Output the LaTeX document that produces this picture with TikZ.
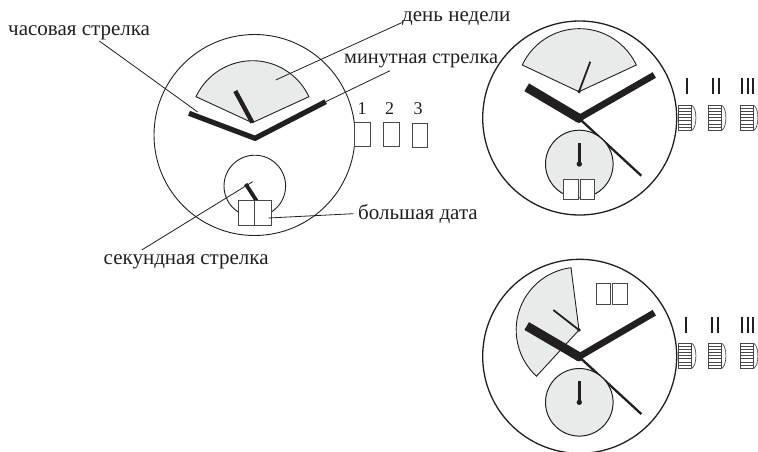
\documentclass[tikz,border=0pt]{standalone}
\usepackage{fontspec}
\setmainfont{Liberation Serif}
\definecolor{ink}{HTML}{231F20}
\definecolor{dial}{HTML}{E9EBEB}
\definecolor{boxline}{HTML}{4A4748}
\tikzset{
  thinline/.style={draw=ink,line width=0.8pt},
  dialline/.style={draw=ink,line width=1.3pt},
  sectorfill/.style={draw=ink,line width=0.9pt,fill=dial},
  datebox/.style={draw=boxline,line width=1pt,fill=white},
  label/.style={inner sep=0pt,anchor=base west,font=\fontsize{21}{23}\selectfont,text=ink},
  digit/.style={inner sep=0pt,anchor=center,font=\fontsize{18}{20}\selectfont,text=ink},
  bar/.style={draw=ink,line width=1.9pt},
  crownbody/.style={draw=boxline,line width=0.7pt},
  crown/.pic={
    \draw[crownbody] (13.5,0) .. controls (19,3) and (19,22) .. (13.5,25);
    \draw[crownbody,fill=white] (0,0) rectangle (13.5,25);
    \foreach \yy in {3.1,6.2,...,22} \draw[crownbody] (0,\yy) -- (13.5,\yy);
  }
}
\newcommand{\bighands}[5]{% hour tip x y, centre at (#1,#2)
  \draw[draw=ink,line width=9pt] (526.7,#3) -- (#1,#2);
  \draw[draw=ink,line width=6.5pt] (654.3,#4) -- (#1,#2);
  \draw[draw=ink,line width=2.3pt] (#1,#2) -- (641.3,#5);
  \fill[ink] (#1,#2) circle (4.7);
}
\begin{document}
\begin{tikzpicture}[x=1pt,y=-1pt]
\useasboundingbox (0,0) rectangle (758,451);
% left dial
\node[circle,draw=ink,line width=0.9pt,minimum size=201pt,inner sep=0pt] (mainA) at (254.5,135) {};
\draw[sectorfill] (252.3,122.7) -- (196,96.7) arc[start angle=-155,end angle=-25,radius=62.3] -- cycle;
\draw[draw=ink,line width=4.4pt] (252.3,122.5) -- (235.3,91);
\draw[draw=ink,line width=5.2pt,miter limit=10] (189,113.3) -- (255,138.3) -- (325.7,101.7);
\node[circle,draw=ink,line width=0.9pt,minimum size=61.6pt,inner sep=0pt] (subA) at (254.8,186) {};
\draw[draw=ink,line width=3.8pt] (245.7,184) -- (256.7,201);
\draw[datebox] (238.3,200.7) rectangle (254.7,225.3);
\draw[datebox] (254.7,200.7) rectangle (271.3,225.3);
\draw[datebox] (354.7,122) rectangle (370.3,146.7);
\draw[datebox] (383.7,122) rectangle (399,146.7);
\draw[datebox] (412.2,123.2) rectangle (427.5,147.2);
\node[digit] (n1) at (362,109) {1};
\node[digit] (n2) at (389.5,109) {2};
\node[digit] (n3) at (418,109) {3};
% labels
\node[label] (lhour) at (8,35) {часовая стрелка};
\node[label] (lday) at (402,21) {день недели};
\node[label,font=\fontsize{20.3}{23}\selectfont] (lmin) at (344,63.5) {минутная стрелка};
\node[label] (ldate) at (358,219.5) {большая дата};
\node[label] (lsec) at (103.5,264) {секундная стрелка};
% leaders
\coordinate (c1) at (99.3,41); \coordinate (c2) at (197.7,112);
\coordinate (c3) at (401.7,22.7); \coordinate (c4) at (275.7,80);
\coordinate (c5) at (390,70.7); \coordinate (c6) at (325.7,101.7);
\coordinate (c7) at (353.3,213.7); \coordinate (c8) at (268.3,218);
\coordinate (c9) at (141.7,250); \coordinate (c10) at (252.7,181.7);
\draw[thinline] (c1) -- (c2);
\draw[thinline] (c3) -- (c4);
\draw[thinline] (c5) -- (c6);
\draw[thinline] (c7) -- (c8);
\draw[thinline] (c9) -- (c10);
% upper right dial
\node[circle,dialline,minimum size=194pt,inner sep=0pt] (mainB) at (579.7,118) {};
\draw[sectorfill] (579,91.7) -- (522.3,65) arc[start angle=-155,end angle=-25,radius=62.9] -- cycle;
\draw[draw=ink,line width=1.8pt] (579,91.7) -- (590.3,61.7);
\fill[ink] (579,91.7) circle (1.8);
\bighands{579}{118.3}{87.3}{75}{175.7}
\node[circle,draw=ink,line width=1pt,fill=dial,minimum size=67.6pt,inner sep=0pt] (subB) at (579.3,164) {};
\draw[draw=ink,line width=2.7pt] (579.3,164) -- (579.3,143.3);
\fill[ink] (579.3,164) circle (2.7);
\draw[datebox] (563.3,179.7) rectangle (578,199.7);
\draw[datebox] (580.3,179.7) rectangle (594.7,199.7);
\draw[bar] (687,77.7) -- (687,93.7);
\draw[bar] (712.7,77.7) -- (712.7,93.7); \draw[bar] (719,77.7) -- (719,93.7);
\draw[bar] (742.3,77.7) -- (742.3,93.7); \draw[bar] (747.8,77.7) -- (747.8,93.7); \draw[bar] (753.3,77.7) -- (753.3,93.7);
\pic at (678.3,105.3) {crown};
\pic at (708.3,105.3) {crown};
\pic at (740.3,105.3) {crown};
% lower right dial
\node[circle,dialline,minimum size=194pt,inner sep=0pt] (mainC) at (579.7,356.3) {};
\draw[sectorfill] (579,330) -- (571,267.7) arc[start angle=-97.3,end angle=-227.4,radius=62.8] -- cycle;
\draw[draw=ink,line width=1.8pt] (579,330) -- (553.3,310);
\fill[ink] (579,330) circle (1.8);
\bighands{579}{356.7}{326}{312.7}{414}
\node[circle,draw=ink,line width=1pt,fill=dial,minimum size=67.6pt,inner sep=0pt] (subC) at (579.3,402.3) {};
\draw[draw=ink,line width=2.7pt] (579.3,402.3) -- (579.3,381);
\fill[ink] (579.3,402.3) circle (2.7);
\draw[datebox] (596.3,283.3) rectangle (610.7,304);
\draw[datebox] (612.3,283.3) rectangle (627,304);
\draw[bar] (686,316.7) -- (686,332.7);
\draw[bar] (711.7,316.7) -- (711.7,332.7); \draw[bar] (718,316.7) -- (718,332.7);
\draw[bar] (742.3,316.7) -- (742.3,332.7); \draw[bar] (747.8,316.7) -- (747.8,332.7); \draw[bar] (753.3,316.7) -- (753.3,332.7);
\pic at (678.3,343.3) {crown};
\pic at (708.3,343.3) {crown};
\pic at (740.3,343.3) {crown};
\end{tikzpicture}
\end{document}
